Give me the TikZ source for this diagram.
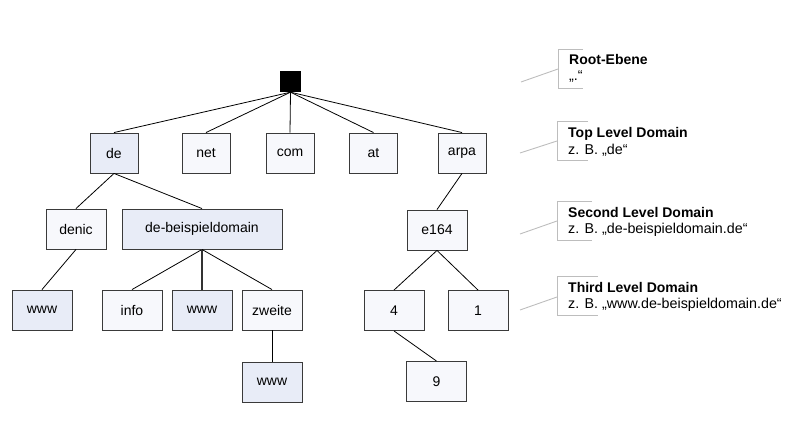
\documentclass[tikz,border=0pt]{standalone}
\usepackage{fontspec}
\setmainfont{Liberation Sans}
\definecolor{hl}{HTML}{E8ECF7}
\definecolor{pl}{HTML}{F7F8FC}
\definecolor{bd}{HTML}{3A3A3A}
\definecolor{lg}{HTML}{BDBDBD}
\tikzset{
  dnsbox/.style={draw=bd, line width=0.9pt, fill=pl, minimum height=40pt, inner sep=0pt, font=\fontsize{14}{17}\selectfont},
  hlbox/.style={dnsbox, fill=hl},
  edge/.style={draw=black, line width=0.8pt},
  thickedge/.style={draw=black!80, line width=2pt},
  legbr/.style={draw=lg, line width=0.9pt},
  legtxt/.style={anchor=north west, align=left, inner sep=0pt, font=\fontsize{14.3}{16.5}\selectfont}
}
\newcommand{\legbold}[1]{{\fontsize{14}{16.5}\selectfont\bfseries #1}}
\begin{document}
\begin{tikzpicture}[x=1pt,y=-1pt]
\useasboundingbox (0,0) rectangle (793,435);
% root
\node[fill=black, minimum width=21pt, minimum height=21pt, inner sep=0pt] (root) at (290.5,81.5) {};
% level 1
\node[hlbox, minimum width=48pt] (de) at (114,153) {de};
\node[dnsbox, minimum width=48pt] (net) at (206,153) {net};
\node[dnsbox, minimum width=48pt] (com) at (290,153) {com};
\node[dnsbox, minimum width=48pt] (at) at (373.5,153) {at};
\node[dnsbox, minimum width=48pt] (arpa) at (462,153) {arpa};
% level 2
\node[dnsbox, minimum width=60pt] (denic) at (76,229) {denic};
\node[hlbox, minimum width=160pt] (bsp) at (202,229) {de-beispieldomain};
\node[dnsbox, minimum width=60pt] (e164) at (437,230) {e164};
% level 3
\node[hlbox, minimum width=60pt] (www1) at (42,310) {www};
\node[dnsbox, minimum width=60pt] (info) at (132,310) {info};
\node[hlbox, minimum width=60pt] (www2) at (202,310) {www};
\node[dnsbox, minimum width=60pt] (zweite) at (272,310) {zweite};
\node[dnsbox, minimum width=60pt] (four) at (394,310.5) {4};
\node[dnsbox, minimum width=60pt] (one) at (478,310.5) {1};
% level 4
\node[hlbox, minimum width=60pt] (www3) at (272,382) {www};
\node[dnsbox, minimum width=60pt] (nine) at (436.5,381.5) {9};
% edges
\foreach \t in {de,net,com,at,arpa} \draw[edge] (root.south) -- (\t.north);
\draw[edge] (de.south) -- (denic.north);
\draw[edge] (de.south) -- (bsp.north);
\draw[edge] (denic.south) -- (www1.north);
\draw[edge] (bsp.south) -- (info.north);
\draw[thickedge] (bsp.south) -- (www2.north);
\draw[edge] (bsp.south) -- (zweite.north);
\draw[edge] (zweite.south) -- (www3.north);
\draw[edge] (arpa.south) -- (e164.north);
\draw[edge] (e164.south) -- (four.north);
\draw[edge] (e164.south) -- (one.north);
\draw[edge] (four.south) -- (nine.north);
% legend
\coordinate (l1a) at (521,82); \coordinate (l1b) at (558,69);
\draw[legbr] (583,49) -- (558,49) -- (558,88) -- (583,88);
\draw[legbr] (l1a) -- (l1b);
\node[legtxt] (t1) at (569,54) {\legbold{Root-Ebene}\\„.“};
\coordinate (l2a) at (520,153); \coordinate (l2b) at (557,141);
\draw[legbr] (588,121) -- (557,121) -- (557,160) -- (588,160);
\draw[legbr] (l2a) -- (l2b);
\node[legtxt] (t2) at (568,127.5) {\legbold{Top Level Domain}\\z. B. „de“};
\coordinate (l3a) at (520,234); \coordinate (l3b) at (557,221);
\draw[legbr] (592,201) -- (557,201) -- (557,240) -- (592,240);
\draw[legbr] (l3a) -- (l3b);
\node[legtxt] (t3) at (568,207) {\legbold{Second Level Domain}\\z. B. „de-beispieldomain.de“};
\coordinate (l4a) at (520,310); \coordinate (l4b) at (557,297);
\draw[legbr] (598,276) -- (557,276) -- (557,315) -- (598,315);
\draw[legbr] (l4a) -- (l4b);
\node[legtxt] (t4) at (568,282) {\legbold{Third Level Domain}\\z. B. „www.de-beispieldomain.de“};
\end{tikzpicture}
\end{document}
